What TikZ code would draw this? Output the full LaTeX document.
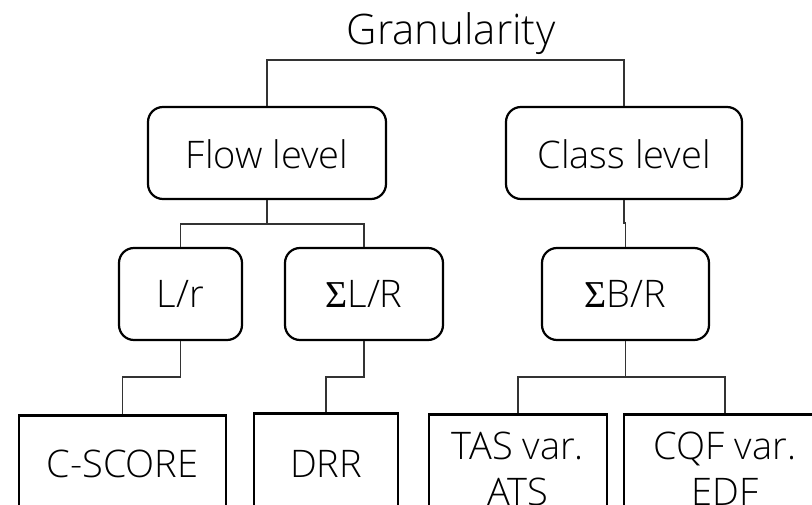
\documentclass[tikz,border=0pt]{standalone}
\usepackage{fontspec}
\setmainfont{Open Sans Light}
\newfontfamily\sigfont{Liberation Serif}
\begin{document}
\begin{tikzpicture}[x=1pt,y=-1pt,
  rbox/.style={draw=black,line width=2.2pt,rounded corners=15pt,inner sep=0pt,fill=white},
  sbox/.style={draw=black,line width=2.6pt,inner sep=0pt,anchor=north,fill=white},
  conn/.style={draw=black!80,line width=1.2pt},
  lbl/.style={font=\fontsize{38}{46}\selectfont},
  title/.style={font=\fontsize{42}{50}\selectfont}]
\useasboundingbox (0,0) rectangle (812,505);
\clip (0,0) rectangle (812,505);
\node[title,anchor=base] (gran) at (451,45) {Granularity};
% level 1
\node[rbox,minimum width=238pt,minimum height=92pt] (flow) at (267,153) {};
\node[lbl,anchor=base] (flowt) at (267,169) {Flow level};
\node[rbox,minimum width=236pt,minimum height=92pt] (class) at (624,153) {};
\node[lbl,anchor=base] (classt) at (624,169) {Class level};
% level 2
\node[rbox,minimum width=123pt,minimum height=92pt] (lr) at (180.5,294) {};
\node[lbl,anchor=base] (lrt) at (180.5,308) {L/r};
\node[rbox,minimum width=158pt,minimum height=92pt] (slr) at (364,294) {};
\node[lbl,anchor=base] (slrt) at (364,308) {{\sigfont Σ}L/R};
\node[rbox,minimum width=167pt,minimum height=92pt] (sbr) at (625.5,294) {};
\node[lbl,anchor=base] (sbrt) at (625.5,308) {{\sigfont Σ}B/R};
% level 3
\node[sbox,minimum width=207pt,minimum height=140pt] (cscore) at (122.5,414) {};
\node[lbl,anchor=base] (cscoret) at (122.5,477) {C-SCORE};
\node[sbox,minimum width=144pt,minimum height=140pt] (drr) at (326,412) {};
\node[lbl,anchor=base] (drrt) at (326,477) {DRR};
\node[sbox,minimum width=178pt,minimum height=140pt] (tas) at (518,413) {};
\node[lbl,anchor=base] (tast1) at (518,459) {TAS var.};
\node[lbl,anchor=base] (tast2) at (518,505) {ATS};
\node[sbox,minimum width=202pt,minimum height=140pt] (cqf) at (725,413) {};
\node[lbl,anchor=base] (cqft1) at (725,459) {CQF var.};
\node[lbl,anchor=base] (cqft2) at (725,505) {EDF};
% connectors
\coordinate (j0) at (451,60);
\draw[conn] (flow.north) -- (flow.north |- j0) -- (class.north |- j0) -- (class.north);
\coordinate (j1) at (267,224);
\draw[conn] (flow.south) -- (j1);
\draw[conn] (lr.north) -- (lr.north |- j1) -- (slr.north |- j1) -- (slr.north);
\coordinate (j2) at (624,223);
\draw[conn] (class.south) -- (j2) -- (sbr.north |- j2) -- (sbr.north);
\coordinate (j3) at (0,377);
\draw[conn] (lr.south) -- (lr.south |- j3) -- (cscore.north |- j3) -- (cscore.north);
\draw[conn] (slr.south) -- (slr.south |- j3) -- (drr.north |- j3) -- (drr.north);
\draw[conn] (sbr.south) -- (sbr.south |- j3);
\draw[conn] (tas.north) -- (tas.north |- j3) -- (cqf.north |- j3) -- (cqf.north);
\end{tikzpicture}
\end{document}
